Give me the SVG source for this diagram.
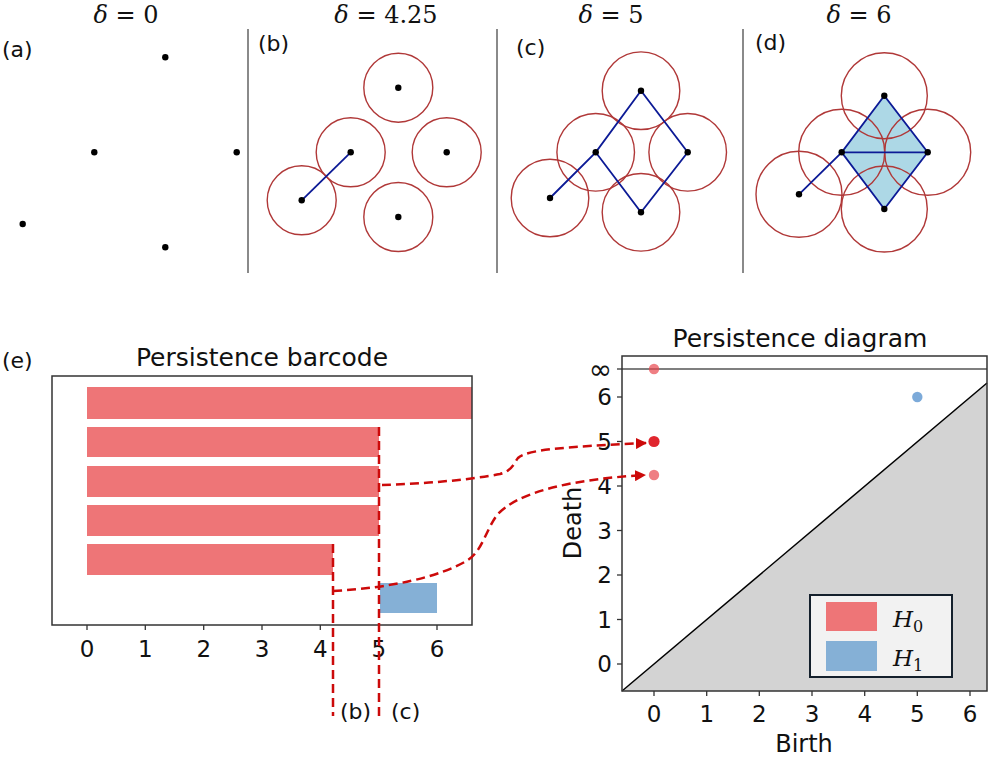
<svg xmlns="http://www.w3.org/2000/svg" width="990" height="757" viewBox="0 0 990 757">
<defs>
<style>
.bg{fill:#fff}
.div{stroke:#8a8a8a;stroke-width:2}
.ttl{font-family:"DejaVu Serif",serif;font-size:24px;fill:#111;text-anchor:middle}
.lab{font-family:"DejaVu Sans",sans-serif;font-size:22px;fill:#111}
.pt{fill:#000}
.cir{fill:none;stroke:#b03838;stroke-width:1.4}
.edge{stroke:#0c1a96;stroke-width:1.8;fill:none}
.ax{fill:none;stroke:#333;stroke-width:1.5}
.tick{stroke:#333;stroke-width:1.3}
.tl{font-family:"DejaVu Sans",sans-serif;font-size:23px;fill:#111;text-anchor:middle}
.tly{font-family:"DejaVu Sans",sans-serif;font-size:23px;fill:#111;text-anchor:end}
.h0{fill:#ee7577}
.h1{fill:#85b0d6}
.dash{fill:none;stroke:#cc0a0a;stroke-width:2.5;stroke-dasharray:9 5}
.big{font-family:"DejaVu Sans",sans-serif;font-size:25px;fill:#111;text-anchor:middle}
.hl{font-family:"DejaVu Serif",serif;font-size:23px;font-style:italic;fill:#111}
</style>
<marker id="arr" viewBox="0 0 10 10" refX="9" refY="5" markerWidth="4.5" markerHeight="4.5" orient="auto" markerUnits="strokeWidth">
<path d="M0,0 L10,5 L0,10 z" fill="#cc0a0a"/>
</marker>
</defs>
<rect class="bg" width="990" height="757"/>

<g id="dividers">
<line class="div" x1="248" y1="29" x2="248" y2="273"/>
<line class="div" x1="497" y1="29" x2="497" y2="273"/>
<line class="div" x1="743" y1="29" x2="743" y2="273"/>
</g>

<g id="panel-a">
<text class="ttl" x="126" y="23"><tspan font-style="italic">δ</tspan> = 0</text>
<text class="lab" x="2" y="57">(a)</text>
<circle class="pt" cx="165.3" cy="57.3" r="3.2"/>
<circle class="pt" cx="94.3" cy="152.3" r="3.2"/>
<circle class="pt" cx="236.7" cy="152.3" r="3.2"/>
<circle class="pt" cx="22.7" cy="224" r="3.2"/>
<circle class="pt" cx="165.3" cy="247.3" r="3.2"/>
</g>

<g id="panel-b">
<text class="ttl" x="386" y="23"><tspan font-style="italic">δ</tspan> = 4.25</text>
<text class="lab" x="258" y="51">(b)</text>
<circle class="cir" cx="398.3" cy="87.7" r="34.5"/>
<circle class="cir" cx="350.7" cy="152.3" r="34.5"/>
<circle class="cir" cx="446.7" cy="152.3" r="34.5"/>
<circle class="cir" cx="301.7" cy="200.3" r="34.5"/>
<circle class="cir" cx="398.3" cy="217" r="34.5"/>
<line class="edge" x1="301.7" y1="200.3" x2="350.7" y2="152.3"/>
<circle class="pt" cx="398.3" cy="87.7" r="3.2"/>
<circle class="pt" cx="350.7" cy="152.3" r="3.2"/>
<circle class="pt" cx="446.7" cy="152.3" r="3.2"/>
<circle class="pt" cx="301.7" cy="200.3" r="3.2"/>
<circle class="pt" cx="398.3" cy="217" r="3.2"/>
</g>

<g id="panel-c">
<text class="ttl" x="611" y="23"><tspan font-style="italic">δ</tspan> = 5</text>
<text class="lab" x="516" y="55">(c)</text>
<circle class="cir" cx="641" cy="90.7" r="38.8"/>
<circle class="cir" cx="595.7" cy="152.3" r="38.8"/>
<circle class="cir" cx="687.7" cy="152.3" r="38.8"/>
<circle class="cir" cx="550" cy="198" r="38.8"/>
<circle class="cir" cx="641" cy="212.3" r="38.8"/>
<path class="edge" d="M550,198 L595.7,152.3 L641,90.7 L687.7,152.3 L641,212.3 L595.7,152.3"/>
<circle class="pt" cx="641" cy="90.7" r="3.2"/>
<circle class="pt" cx="595.7" cy="152.3" r="3.2"/>
<circle class="pt" cx="687.7" cy="152.3" r="3.2"/>
<circle class="pt" cx="550" cy="198" r="3.2"/>
<circle class="pt" cx="641" cy="212.3" r="3.2"/>
</g>

<g id="panel-d">
<text class="ttl" x="859" y="23"><tspan font-style="italic">δ</tspan> = 6</text>
<text class="lab" x="755" y="50">(d)</text>
<polygon points="884.3,95.7 927.7,152.3 884.3,209 841.7,152.3" fill="#add8e6"/>
<circle class="cir" cx="884.3" cy="95.7" r="43"/>
<circle class="cir" cx="841.7" cy="152.3" r="43"/>
<circle class="cir" cx="927.7" cy="152.3" r="43"/>
<circle class="cir" cx="799" cy="194.3" r="43"/>
<circle class="cir" cx="884.3" cy="209" r="43"/>
<path class="edge" d="M799,194.3 L841.7,152.3 L884.3,95.7 L927.7,152.3 L884.3,209 L841.7,152.3 L927.7,152.3"/>
<circle class="pt" cx="884.3" cy="95.7" r="3.2"/>
<circle class="pt" cx="841.7" cy="152.3" r="3.2"/>
<circle class="pt" cx="927.7" cy="152.3" r="3.2"/>
<circle class="pt" cx="799" cy="194.3" r="3.2"/>
<circle class="pt" cx="884.3" cy="209" r="3.2"/>
</g>

<g id="barcode">
<text class="lab" x="2" y="368">(e)</text>
<text class="big" x="262" y="366">Persistence barcode</text>
<rect class="h0" x="87" y="387" width="385" height="32"/>
<rect class="h0" x="87" y="427" width="292" height="30"/>
<rect class="h0" x="87" y="466" width="292" height="31"/>
<rect class="h0" x="87" y="505" width="292" height="31"/>
<rect class="h0" x="87" y="544" width="246" height="31"/>
<rect class="h1" x="380" y="583" width="57" height="30"/>
<rect class="ax" x="52" y="376" width="420" height="249"/>
<g class="tick">
<line x1="87" y1="625" x2="87" y2="630"/>
<line x1="145.3" y1="625" x2="145.3" y2="630"/>
<line x1="203.7" y1="625" x2="203.7" y2="630"/>
<line x1="262" y1="625" x2="262" y2="630"/>
<line x1="320.3" y1="625" x2="320.3" y2="630"/>
<line x1="378.7" y1="625" x2="378.7" y2="630"/>
<line x1="437" y1="625" x2="437" y2="630"/>
</g>
<text class="tl" x="87" y="657">0</text>
<text class="tl" x="145.3" y="657">1</text>
<text class="tl" x="203.7" y="657">2</text>
<text class="tl" x="262" y="657">3</text>
<text class="tl" x="320.3" y="657">4</text>
<text class="tl" x="378.7" y="657">5</text>
<text class="tl" x="437" y="657">6</text>
<text class="lab" x="340" y="719">(b)</text>
<text class="lab" x="391" y="719">(c)</text>
</g>

<g id="diagram">
<text class="big" x="800" y="347">Persistence diagram</text>
<polygon points="622,691 987,383 987,691" fill="#d3d3d3"/>
<line x1="622" y1="691" x2="987" y2="383" stroke="#000" stroke-width="1.5"/>
<line x1="622" y1="369" x2="987" y2="369" stroke="#555" stroke-width="1.5"/>
<rect class="ax" x="622" y="356" width="365" height="335"/>
<g class="tick">
<line x1="617" y1="369" x2="622" y2="369"/>
<line x1="617" y1="397" x2="622" y2="397"/>
<line x1="617" y1="441.5" x2="622" y2="441.5"/>
<line x1="617" y1="486" x2="622" y2="486"/>
<line x1="617" y1="530.5" x2="622" y2="530.5"/>
<line x1="617" y1="575" x2="622" y2="575"/>
<line x1="617" y1="619.5" x2="622" y2="619.5"/>
<line x1="617" y1="664" x2="622" y2="664"/>
<line x1="654" y1="691" x2="654" y2="696"/>
<line x1="706.7" y1="691" x2="706.7" y2="696"/>
<line x1="759.3" y1="691" x2="759.3" y2="696"/>
<line x1="812" y1="691" x2="812" y2="696"/>
<line x1="864.7" y1="691" x2="864.7" y2="696"/>
<line x1="917.3" y1="691" x2="917.3" y2="696"/>
<line x1="970" y1="691" x2="970" y2="696"/>
</g>
<text class="tly" x="612" y="379" style="font-size:28px">∞</text>
<text class="tly" x="612" y="405">6</text>
<text class="tly" x="612" y="449.5">5</text>
<text class="tly" x="612" y="494">4</text>
<text class="tly" x="612" y="538.5">3</text>
<text class="tly" x="612" y="583">2</text>
<text class="tly" x="612" y="627.5">1</text>
<text class="tly" x="612" y="672">0</text>
<text class="tl" x="654" y="722">0</text>
<text class="tl" x="706.7" y="722">1</text>
<text class="tl" x="759.3" y="722">2</text>
<text class="tl" x="812" y="722">3</text>
<text class="tl" x="864.7" y="722">4</text>
<text class="tl" x="917.3" y="722">5</text>
<text class="tl" x="970" y="722">6</text>
<text class="big" x="804" y="752" style="font-size:24px">Birth</text>
<text class="big" transform="translate(581,523) rotate(-90)" style="font-size:24px">Death</text>
<circle cx="654" cy="369" r="5.2" fill="#e8474e" fill-opacity="0.7"/>
<circle cx="654" cy="441.5" r="5.6" fill="#e0262e"/>
<circle cx="654" cy="475" r="5.2" fill="#e8474e" fill-opacity="0.7"/>
<circle cx="917.3" cy="397" r="5.2" fill="#5b95cf" fill-opacity="0.8"/>
</g>

<g id="legend">
<rect x="810" y="595" width="142" height="82" fill="#f2f2f2" stroke="#14202c" stroke-width="2"/>
<rect class="h0" x="826" y="602" width="51" height="29"/>
<rect class="h1" x="826" y="641" width="51" height="30"/>
<text class="hl" x="893" y="627">H<tspan font-size="16" font-style="normal" dy="5">0</tspan></text>
<text class="hl" x="893" y="666">H<tspan font-size="16" font-style="normal" dy="5">1</tspan></text>
</g>

<g id="connectors">
<line class="dash" x1="333" y1="544" x2="333" y2="716"/>
<line class="dash" x1="379" y1="427" x2="379" y2="716"/>
<path class="dash" marker-end="url(#arr)" d="M382,485 C420,484 470,480 500,474 C512,471 514,463 518,458 C526,450 560,447 646,443"/>
<path class="dash" marker-end="url(#arr)" d="M333,591 C390,588 440,577 468,560 C482,551 486,530 497,515 C515,495 560,480 645,475"/>
</g>
</svg>
